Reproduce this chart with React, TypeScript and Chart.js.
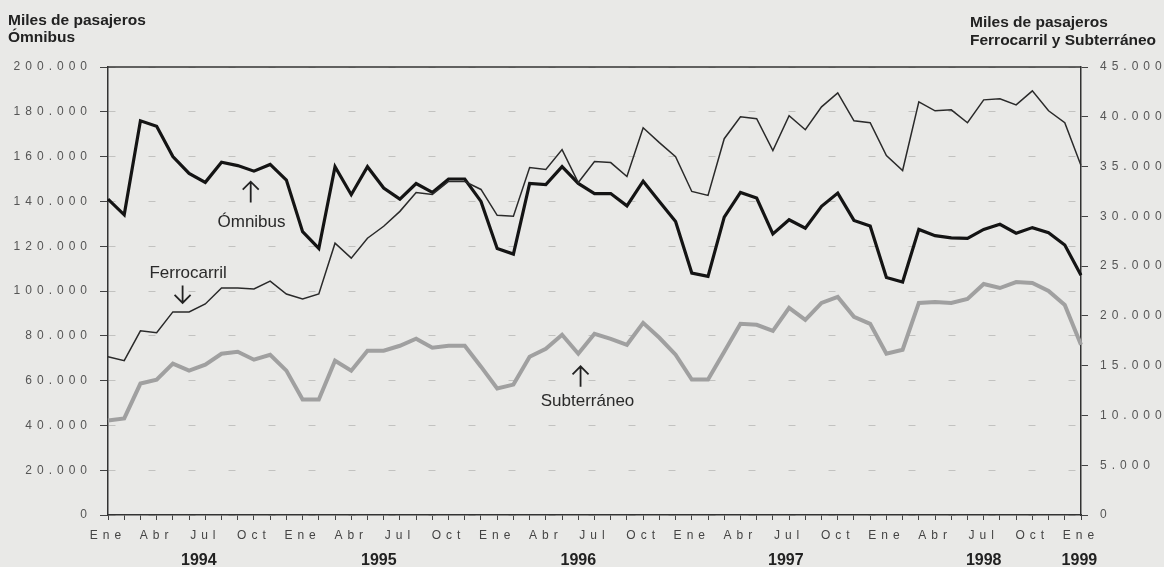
import React, { useEffect, useRef } from 'react';
import { Chart, registerables } from 'chart.js';

Chart.register(...registerables);

// ---- data ----
const categories: string[] = [
  'Ene','Feb','Mar','Abr','May','Jun','Jul','Ago','Sep','Oct','Nov','Dic',
  'Ene','Feb','Mar','Abr','May','Jun','Jul','Ago','Sep','Oct','Nov','Dic',
  'Ene','Feb','Mar','Abr','May','Jun','Jul','Ago','Sep','Oct','Nov','Dic',
  'Ene','Feb','Mar','Abr','May','Jun','Jul','Ago','Sep','Oct','Nov','Dic',
  'Ene','Feb','Mar','Abr','May','Jun','Jul','Ago','Sep','Oct','Nov','Dic',
  'Ene',
];

const omnibus: number[] = [
  141000, 134000, 176000, 173500, 160000, 152500, 148500, 157500, 156000, 153500,
  156500, 149500, 126500, 119000, 155500, 143000, 155500, 146000, 141000, 148000,
  144000, 150000, 150000, 140000, 119000, 116500, 148000, 147500, 155500, 148000,
  143500, 143500, 138000, 149000, 140000, 131000, 108000, 106500, 133000, 144000,
  141500, 125500, 131800, 128000, 137800, 143700, 131500, 129000, 106000, 104000,
  127500, 124700, 123700, 123500, 127500, 129800, 125800, 128300, 126000, 120500,
  107000,
];

const ferrocarril: number[] = [
  15900, 15500, 18500, 18300, 20400, 20400, 21200, 22800, 22800, 22700,
  23500, 22200, 21700, 22200, 27300, 25800, 27800, 29000, 30500, 32400,
  32200, 33500, 33500, 32700, 30100, 30000, 34900, 34700, 36700, 33400,
  35500, 35400, 34000, 38900, 37400, 36000, 32500, 32100, 37800, 40000,
  39800, 36600, 40100, 38700, 41000, 42400, 39600, 39400, 36100, 34600,
  41500, 40600, 40700, 39400, 41700, 41800, 41200, 42600, 40600, 39400,
  35100,
];

const subterraneo: number[] = [
  9500, 9700, 13200, 13600, 15200, 14500, 15100, 16200, 16400, 15600,
  16100, 14500, 11600, 11600, 15500, 14500, 16500, 16500, 17000, 17700,
  16800, 17000, 17000, 14900, 12700, 13100, 15900, 16700, 18100, 16200,
  18200, 17700, 17100, 19300, 17800, 16100, 13600, 13600, 16400, 19200,
  19100, 18500, 20800, 19600, 21300, 21900, 19900, 19200, 16200, 16600,
  21300, 21400, 21300, 21700, 23200, 22800, 23400, 23300, 22500, 21100,
  17100,
];

const yearLabels: string[] = ['1994', '1995', '1996', '1997', '1998', '1999'];
const yearAnchors: number[] = [5.6, 16.7, 29, 41.8, 54, 59.9];

const leftTitle: string[] = ['Miles de pasajeros', 'Ómnibus'];
const rightTitle: string[] = ['Miles de pasajeros', 'Ferrocarril y Subterráneo'];

// annotation anchors: [label, textIndex, textValue(left axis), arrowIndex, tailValue, tipValue]
const annotations: Array<[string, number, number, number, number, number]> = [
  ['Ómnibus', 8.85, 128700, 8.8, 139500, 148800],
  ['Ferrocarril', 4.94, 105600, 4.6, 102400, 94700],
  ['Subterráneo', 29.57, 48500, 29.14, 57200, 66400],
];

const FONT = '"Liberation Sans", Arial, Helvetica, sans-serif';
const fmt = (v: number) => String(v).replace(/\B(?=(\d{3})+(?!\d))/g, '.');

const decorPlugin = {
  id: 'decor',
  beforeDraw(chart: any) {
    const ctx = chart.ctx;
    ctx.save();
    ctx.fillStyle = '#e9e9e7';
    ctx.fillRect(0, 0, chart.width, chart.height);
    ctx.restore();
    ctx.letterSpacing = '5px';
  },
  beforeDatasetsDraw(chart: any) {
    chart.ctx.letterSpacing = '0px';
  },
  afterDatasetsDraw(chart: any) {
    const ctx = chart.ctx;
    const xs = chart.scales.x;
    const ys = chart.scales.y;
    const area = chart.chartArea;
    ctx.save();
    ctx.letterSpacing = '0px';
    // top border
    ctx.strokeStyle = '#333';
    ctx.lineWidth = 1.5;
    ctx.beginPath();
    ctx.moveTo(area.left, area.top);
    ctx.lineTo(area.right, area.top);
    ctx.stroke();

    // annotations
    ctx.fillStyle = '#2a2a2a';
    ctx.strokeStyle = '#222';
    ctx.font = `17px ${FONT}`;
    ctx.textAlign = 'center';
    ctx.textBaseline = 'alphabetic';
    ctx.lineWidth = 1.8;
    annotations.forEach(([label, ti, tv, ai, tail, tip]) => {
      ctx.fillText(label, xs.getPixelForValue(ti), ys.getPixelForValue(tv));
      const ax = xs.getPixelForValue(ai);
      const y0 = ys.getPixelForValue(tail);
      const y1 = ys.getPixelForValue(tip);
      const dir = y1 < y0 ? 1 : -1;
      ctx.beginPath();
      ctx.moveTo(ax, y0);
      ctx.lineTo(ax, y1);
      ctx.moveTo(ax - 8, y1 + dir * 8);
      ctx.lineTo(ax, y1);
      ctx.lineTo(ax + 8, y1 + dir * 8);
      ctx.stroke();
    });

    // years
    ctx.font = `bold 16px ${FONT}`;
    ctx.fillStyle = '#222';
    yearLabels.forEach((y, i) => {
      ctx.fillText(y, xs.getPixelForValue(yearAnchors[i]), 565);
    });

    // titles
    ctx.textAlign = 'left';
    ctx.font = `bold 15.5px ${FONT}`;
    ctx.fillText(leftTitle[0], 8, 25);
    ctx.fillText(leftTitle[1], 8, 42);
    ctx.fillText(rightTitle[0], 970, 27);
    ctx.fillText(rightTitle[1], 970, 45);
    ctx.restore();
  },
};

export default function App() {
  const ref = useRef<HTMLCanvasElement | null>(null);
  useEffect(() => {
    if (!ref.current) return;
    const tickFont = { family: FONT, size: 12 };
    const chart = new Chart(ref.current, {
      type: 'line',
      data: {
        labels: categories,
        datasets: [
          { label: 'Subterráneo', data: subterraneo, yAxisID: 'y1', borderColor: '#a0a0a0', borderWidth: 4, pointRadius: 0, tension: 0 },
          { label: 'Ferrocarril', data: ferrocarril, yAxisID: 'y1', borderColor: '#2a2a2a', borderWidth: 1.5, pointRadius: 0, tension: 0 },
          { label: 'Ómnibus', data: omnibus, yAxisID: 'y', borderColor: '#141414', borderWidth: 3.2, pointRadius: 0, tension: 0 },
        ],
      },
      options: {
        responsive: false,
        animation: false,
        events: [],
        layout: { padding: { top: 67, left: 0, right: 0, bottom: 0 } },
        plugins: { legend: { display: false }, tooltip: { enabled: false }, title: { display: false } },
        scales: {
          x: {
            type: 'category',
            offset: false,
            grid: { display: true, drawOnChartArea: false, drawTicks: true, tickLength: 5, tickColor: '#444', tickWidth: 1 },
            border: { display: true, color: '#333', width: 1.5 },
            ticks: {
              autoSkip: false,
              maxRotation: 0,
              minRotation: 0,
              padding: 8,
              color: '#444',
              font: tickFont,
              callback: (_v: any, i: number) => (i % 3 === 0 ? categories[i] : ''),
            },
            afterFit: (s: any) => { s.height = 52; },
          },
          y: {
            position: 'left',
            min: 0,
            max: 200000,
            ticks: { stepSize: 20000, color: '#555', font: tickFont, padding: 8, callback: (v: any) => fmt(Number(v)) },
            grid: { color: '#c2c2c0', lineWidth: 1, tickColor: '#444', tickLength: 8, drawTicks: true },
            border: { display: true, color: '#333', width: 1.5, dash: [7, 33] },
            afterFit: (s: any) => { s.width = 108; },
          },
          y1: {
            position: 'right',
            min: 0,
            max: 45000,
            ticks: { stepSize: 5000, color: '#555', font: tickFont, padding: 12, callback: (v: any) => fmt(Number(v)) },
            grid: { drawOnChartArea: false, tickColor: '#444', tickLength: 7, drawTicks: true },
            border: { display: true, color: '#333', width: 1.5 },
            afterFit: (s: any) => { s.width = 83; },
          },
        },
      } as any,
      plugins: [decorPlugin],
    });
    return () => chart.destroy();
  }, []);

  return (
    <div style={{ position: 'absolute', left: 0, top: 0, width: 1164, height: 567, background: '#e9e9e7' }}>
      <canvas ref={ref} width={1164} height={567} style={{ display: 'block' }} />
    </div>
  );
}
